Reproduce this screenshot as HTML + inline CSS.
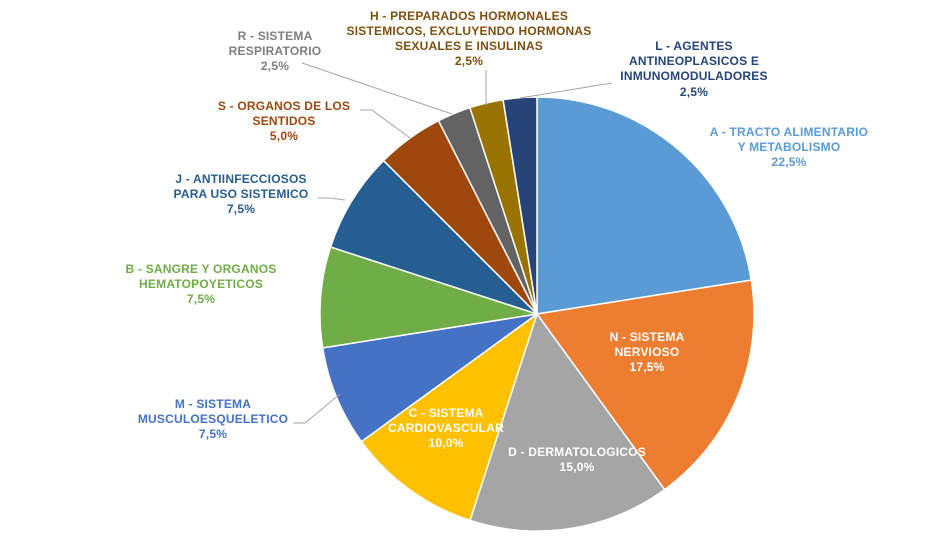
<!DOCTYPE html>
<html><head><meta charset="utf-8"><style>
html,body{margin:0;padding:0;background:#fff;}
text{font-family:"Liberation Sans",Arial,sans-serif;font-size:12px;}
</style></head><body>
<svg width="951" height="533" viewBox="0 0 951 533" xmlns="http://www.w3.org/2000/svg">
<g stroke="#fff" stroke-width="1.5">
<path d="M537,314 L537,97 A217,217 0 0 1 751.3,280.1 Z" fill="#5B9BD5"/>
<path d="M537,314 L751.3,280.1 A217,217 0 0 1 664.6,489.6 Z" fill="#ED7D31"/>
<path d="M537,314 L664.6,489.6 A217,217 0 0 1 470.0,520.4 Z" fill="#A5A5A5"/>
<path d="M537,314 L470.0,520.4 A217,217 0 0 1 361.4,441.6 Z" fill="#FFC000"/>
<path d="M537,314 L361.4,441.6 A217,217 0 0 1 322.7,347.9 Z" fill="#4472C4"/>
<path d="M537,314 L322.7,347.9 A217,217 0 0 1 330.6,247.0 Z" fill="#70AD47"/>
<path d="M537,314 L330.6,247.0 A217,217 0 0 1 383.6,160.6 Z" fill="#255E91"/>
<path d="M537,314 L383.6,160.6 A217,217 0 0 1 438.5,120.7 Z" fill="#9E480E"/>
<path d="M537,314 L438.5,120.7 A217,217 0 0 1 469.9,107.6 Z" fill="#636363"/>
<path d="M537,314 L469.9,107.6 A217,217 0 0 1 503.1,99.7 Z" fill="#997300"/>
<path d="M537,314 L503.1,99.7 A217,217 0 0 1 537,97 Z" fill="#264478"/>
</g>
<g stroke="#a6a6a6" stroke-width="1" fill="none">
<polyline points="293,423 305,423 340,394"/>
<polyline points="318,198 330,198 345,200"/>
<polyline points="360,110 372,110 410,138"/>
<polyline points="302,63 452,114"/>
<polyline points="486,70 486,106"/>
<polyline points="612,83 520,98"/>
</g>
<g text-anchor="middle" font-weight="bold" style="letter-spacing:0.2px">
<g fill="#5B9BD5"><text x="789" y="136">A - TRACTO  ALIMENTARIO</text><text x="789" y="151">Y METABOLISMO</text><text x="789" y="166">22,5%</text></g>
<g fill="#fff"><text x="647" y="341">N - SISTEMA</text><text x="647" y="356">NERVIOSO</text><text x="647" y="371">17,5%</text></g>
<g fill="#fff"><text x="577" y="456">D - DERMATOLOGICOS</text><text x="577" y="471">15,0%</text></g>
<g fill="#fff"><text x="446" y="417">C - SISTEMA</text><text x="446" y="432">CARDIOVASCULAR</text><text x="446" y="447">10,0%</text></g>
<g fill="#4472C4"><text x="213" y="408">M - SISTEMA</text><text x="213" y="423">MUSCULOESQUELETICO</text><text x="213" y="438">7,5%</text></g>
<g fill="#70AD47"><text x="201" y="273">B - SANGRE  Y ORGANOS</text><text x="201" y="288">HEMATOPOYETICOS</text><text x="201" y="303">7,5%</text></g>
<g fill="#255E91"><text x="241" y="183">J - ANTIINFECCIOSOS</text><text x="241" y="198">PARA USO SISTEMICO</text><text x="241" y="213">7,5%</text></g>
<g fill="#9E480E"><text x="284" y="110">S - ORGANOS  DE  LOS</text><text x="284" y="125">SENTIDOS</text><text x="284" y="140">5,0%</text></g>
<g fill="#7f7f7f"><text x="275" y="40">R - SISTEMA</text><text x="275" y="55">RESPIRATORIO</text><text x="275" y="70">2,5%</text></g>
<g fill="#7f4f10"><text x="469" y="20">H - PREPARADOS  HORMONALES</text><text x="469" y="35">SISTEMICOS, EXCLUYENDO  HORMONAS</text><text x="469" y="50">SEXUALES  E INSULINAS</text><text x="469" y="65">2,5%</text></g>
<g fill="#264478"><text x="694" y="50">L - AGENTES</text><text x="694" y="65">ANTINEOPLASICOS  E</text><text x="694" y="80">INMUNOMODULADORES</text><text x="694" y="96">2,5%</text></g>
</g>
</svg>
</body></html>
